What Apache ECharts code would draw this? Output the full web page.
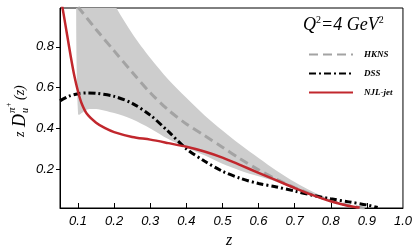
<!DOCTYPE html>
<html><head><meta charset="utf-8">
<script src="https://cdn.jsdelivr.net/npm/echarts@6/dist/echarts.min.js"></script>
<style>html,body{margin:0;padding:0;background:#fff}#c{width:415px;height:249px}</style>
</head><body><div id="c"></div>
<script>
const xTicks = [0.1,0.2,0.3,0.4,0.5,0.6,0.7,0.8,0.9,1.0];
const yTicks = [0.2,0.4,0.6,0.8];

const bandZ    = [0.1,0.125,0.15,0.175,0.2,0.25,0.3,0.35,0.4,0.45,0.5,0.55,0.6,0.65,0.7,0.75,0.8,0.85,0.9];
const bandLow  = [0.47,0.493,0.495,0.487,0.475,0.445,0.40,0.348,0.305,0.268,0.227,0.193,0.165,0.138,0.105,0.075,0.045,0.022,0.008];
const bandHigh = [1.45,1.33,1.22,1.11,1.01,0.865,0.745,0.64,0.55,0.465,0.39,0.32,0.255,0.193,0.137,0.09,0.052,0.025,0.01];

const hknsZ = [0.1,0.15,0.2,0.25,0.3,0.35,0.4,0.45,0.5,0.55,0.6,0.65,0.7,0.75,0.8,0.85,0.9];
const hknsV = [0.995,0.885,0.78,0.675,0.575,0.49,0.422,0.365,0.308,0.25,0.197,0.15,0.11,0.075,0.045,0.022,0.008];

const dssZ = [0.05,0.075,0.1,0.125,0.15,0.2,0.25,0.3,0.35,0.4,0.45,0.5,0.55,0.6,0.65,0.7,0.75,0.8,0.85,0.9,0.93];
const dssV = [0.535,0.558,0.57,0.574,0.572,0.557,0.523,0.465,0.385,0.30,0.24,0.19,0.155,0.13,0.113,0.093,0.072,0.055,0.04,0.025,0.013];

const njlZ = [0.05,0.06,0.07,0.08,0.09,0.1,0.11,0.125,0.15,0.175,0.2,0.25,0.3,0.35,0.4,0.45,0.5,0.55,0.6,0.65,0.7,0.75,0.8,0.85,0.88];
const njlV = [1.06,0.96,0.855,0.75,0.655,0.58,0.522,0.47,0.428,0.401,0.382,0.358,0.345,0.328,0.31,0.287,0.257,0.22,0.182,0.145,0.108,0.073,0.043,0.02,0.012];

const zip = (a,b) => a.map((v,i)=>[v,b[i]]);
const chart = echarts.init(document.getElementById('c'));
const serif = '"Liberation Serif","DejaVu Serif",serif';
const sans = '"Liberation Sans","DejaVu Sans",sans-serif';

const bandData = bandZ.map((z,i)=>[z,bandLow[i],bandHigh[i]]);

chart.setOption({
  animation:false,
  grid:{left:60,right:12,top:8,bottom:41,show:true,borderColor:'#000',borderWidth:1},
  xAxis:{type:'value',min:0.05,max:1.0,
    axisLine:{lineStyle:{color:'#000',width:1}},
    axisTick:{inside:true,length:5,customValues:[0.1,0.2,0.3,0.4,0.5,0.6,0.7,0.8,0.9],lineStyle:{color:'#000'}},
    axisLabel:{customValues:xTicks,formatter:v=>v.toFixed(1),color:'#000',fontFamily:sans,fontStyle:'italic',fontSize:13,margin:7},
    splitLine:{show:false}},
  yAxis:{type:'value',min:0.01,max:0.99,
    axisLine:{show:true,lineStyle:{color:'#000',width:1}},
    axisTick:{show:true,inside:false,length:4,customValues:yTicks,lineStyle:{color:'#000'}},
    axisLabel:{customValues:yTicks,formatter:v=>v.toFixed(1),color:'#000',fontFamily:sans,fontStyle:'italic',fontSize:13,margin:6},
    splitLine:{show:false}},
  legend:{data:['HKNS','DSS','NJL-jet'],orient:'vertical',left:303,top:45,itemWidth:44,itemHeight:8,itemGap:10,
    itemStyle:{color:'rgba(0,0,0,0)',borderWidth:0,opacity:0},
    textStyle:{fontFamily:serif,fontStyle:'italic',fontWeight:'bold',fontSize:9,color:'#000',padding:[0,0,0,6]}},
  graphic:[
    {type:'text',left:303,top:15,style:{text:'{n|Q}{s|2}{n|=4 GeV}{s|2}',fill:'#000',
      rich:{n:{fontFamily:serif,fontStyle:'italic',fontSize:18,lineHeight:19,verticalAlign:'bottom'},
            s:{fontFamily:serif,fontSize:10,lineHeight:10,verticalAlign:'top'}}}},
    {type:'group',x:20,y:137,rotation:Math.PI/2,children:[
      {type:'text',x:0,y:0,style:{text:'z',font:'italic 14px '+serif,fill:'#000',textVerticalAlign:'middle'}},
      {type:'text',x:10,y:0,style:{text:'D',font:'italic 18px '+serif,fill:'#000',textVerticalAlign:'middle'}},
      {type:'text',x:24,y:5,style:{text:'u',font:'italic 10px '+serif,fill:'#000',textVerticalAlign:'middle'}},
      {type:'text',x:24,y:-8,style:{text:'π',font:'italic 11px '+serif,fill:'#000',textVerticalAlign:'middle'}},
      {type:'text',x:30,y:-11,style:{text:'+',font:'8px '+serif,fill:'#000',textVerticalAlign:'middle'}},
      {type:'text',x:37,y:0,style:{text:'(z)',font:'italic 14px '+serif,fill:'#000',textVerticalAlign:'middle'}}
    ]},
    {type:'text',left:226,top:233,style:{text:'z',font:'italic 16px '+serif,fill:'#000'}}
  ],
  series:[
    {name:'band',type:'custom',data:bandData,clip:true,silent:true,z:1,
      renderItem:(params,api)=>{
        if(params.dataIndex!==0) return null;
        const up=[],lo=[];
        bandData.forEach(d=>{up.push(api.coord([d[0],d[2]]));lo.push(api.coord([d[0],d[1]]));});
        return {type:'polygon',shape:{points:up.concat(lo.reverse()),smooth:0.3},style:{fill:'#cdcdcd',stroke:null}};
      }},
    {name:'HKNS',type:'line',data:zip(hknsZ,hknsV),symbol:'none',smooth:0.3,z:3,
      lineStyle:{color:'#a3a3a3',width:3,type:[9,5]},itemStyle:{color:'#a3a3a3'}},
    {name:'DSS',type:'line',data:zip(dssZ,dssV),symbol:'none',smooth:0.3,z:3,
      lineStyle:{color:'#000',width:3,type:[7,3,2,3]},itemStyle:{color:'#000'}},
    {name:'NJL-jet',type:'line',data:zip(njlZ,njlV),symbol:'none',smooth:0.3,z:3,
      lineStyle:{color:'#c1272d',width:2.5},itemStyle:{color:'#c1272d'}}
  ]
});
</script></body></html>
